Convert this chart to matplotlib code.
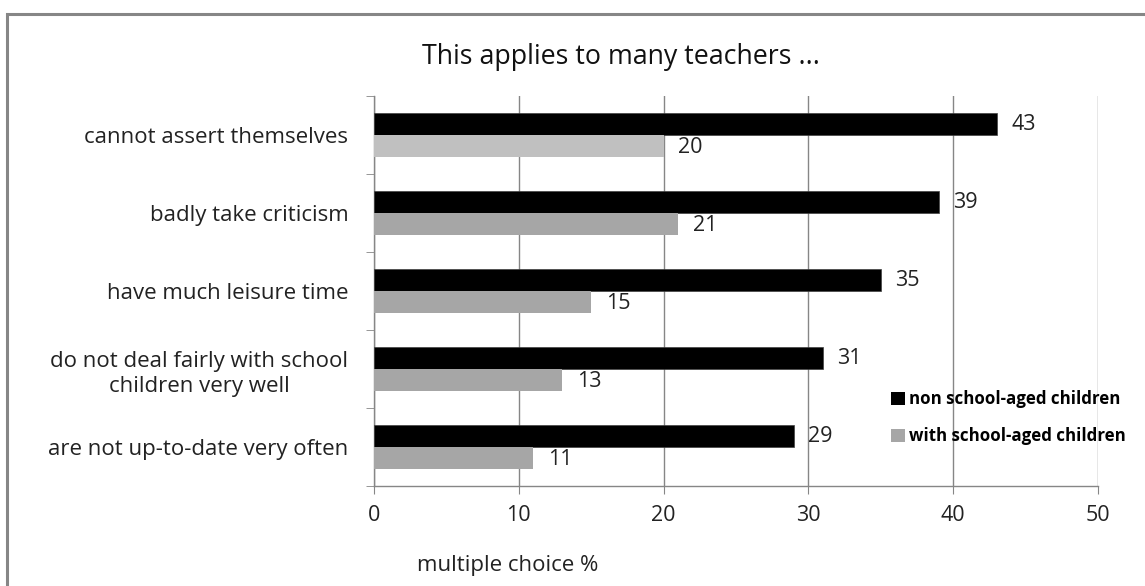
import matplotlib
matplotlib.use("Agg")
import matplotlib.pyplot as plt
from matplotlib.patches import Patch, Rectangle
import numpy as np

categories = ["cannot assert themselves", "badly take criticism", "have much leisure time",
              "do not deal fairly with school\nchildren very well", "are not up-to-date very often"]
non_school = [43, 39, 35, 31, 29]
with_school = [20, 21, 15, 13, 11]
series_names = ["non school-aged children", "with school-aged children"]
xticks = [0, 10, 20, 30, 40, 50]

plt.rcParams['font.family'] = ['Open Sans', 'DejaVu Sans']

W, H = 1145, 586
fig = plt.figure(figsize=(W/100, H/100), dpi=100)
ax = fig.add_axes([374/W, 1-486/H, (1098-374)/W, (486-96)/H])

# outer border
fig.patches.append(Rectangle((7/W, -0.1), 1.2, 1.1 - 14/H, transform=fig.transFigure,
                             fill=False, edgecolor="#868686", linewidth=2.2, zorder=0))

y = np.arange(len(categories))
h = 0.28
gray_colors = ["#c0c0c0"] + ["#a6a6a6"] * (len(categories) - 1)
ax.barh(y - h/2, non_school, height=h, color="black", edgecolor="#404040", linewidth=0.5, zorder=3)
ax.barh(y + h/2, with_school, height=h, color=gray_colors, edgecolor="none", zorder=3)

for i in range(len(categories)):
    ax.text(non_school[i] + 1.0, y[i] - h/2 + 0.01, str(non_school[i]), va="center", ha="left", fontsize=15.5, color="#222222")
    ax.text(with_school[i] + 1.0, y[i] + h/2 + 0.02, str(with_school[i]), va="center", ha="left", fontsize=15.5, color="#222222")

ax.set_xlim(0, 50)
ax.set_ylim(len(categories) - 0.5, -0.5)
ax.set_xticks(xticks)
ax.set_xticklabels([str(t) for t in xticks], fontsize=15.5, color="#222222")
ax.set_yticks(y)
ax.set_yticklabels(categories, fontsize=16, multialignment="center", color="#222222", linespacing=1.3)
ax.tick_params(axis="y", which="major", length=0, pad=18.5)
ax.set_yticks(np.arange(len(categories) + 1) - 0.5, minor=True)
ax.tick_params(axis="y", which="minor", length=6, color="#868686", direction="out")
ax.tick_params(axis="x", length=6, color="#868686", direction="out", pad=8)
ax.grid(axis="x", color="#868686", linewidth=1, zorder=0)
ax.set_axisbelow(True)
for s in ["top", "right"]:
    ax.spines[s].set_visible(False)
for s in ["left", "bottom"]:
    ax.spines[s].set_color("#868686")
    ax.spines[s].set_linewidth(1)

fig.text(621/W, 1-57/H, "This applies to many teachers ...", ha="center", va="center", fontsize=19.3, color="#111111")
fig.text(417/W, 1-565/H, "multiple choice %", ha="left", va="center", fontsize=16, color="#222222")

handles = [Patch(facecolor="black"), Patch(facecolor="#a6a6a6")]
leg = ax.legend(handles, series_names, loc="upper left",
                bbox_to_anchor=((891-374)/(1098-374), 1-(390-96)/(486-96)),
                frameon=False, handlelength=0.8, handleheight=0.8, handletextpad=0.25, labelspacing=1.15,
                prop={"size": 12.2, "weight": "bold"}, borderaxespad=0, borderpad=0)

fig.savefig("out.png", dpi=100)
